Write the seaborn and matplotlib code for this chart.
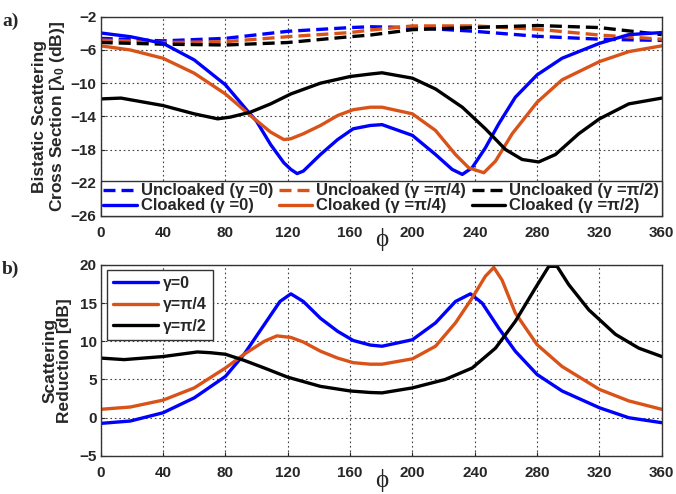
import numpy as np
import pandas as pd
import matplotlib
matplotlib.use("Agg")
import matplotlib.pyplot as plt
import seaborn as sns

# ---------------- data ----------------
# panel a) : bistatic scattering cross section [dB]
unc0_phi = [0, 40, 80, 120, 160, 173, 200, 240, 280, 320, 360]
unc0_val = [-4.6, -4.9, -4.6, -3.75, -3.3, -3.2, -3.3, -3.75, -4.35, -4.7, -4.85]
unc4_phi = [0, 40, 80, 120, 160, 173, 200, 240, 280, 320, 360]
unc4_val = [-4.8, -5.1, -5.0, -4.4, -3.9, -3.6, -3.1, -3.1, -3.5, -4.2, -4.7]
unc2_phi = [0, 40, 80, 120, 160, 173, 200, 240, 280, 320, 360]
unc2_val = [-5.1, -5.3, -5.4, -5.1, -4.4, -4.2, -3.55, -3.3, -3.05, -3.3, -4.15]

clk0_phi = [0, 19, 40, 60, 80, 94, 100, 109, 117.5, 122, 126, 130, 141, 152, 162, 173, 180.5,
            200, 214.8, 225.5, 232, 238.3, 246.8, 255.4, 266, 280, 296, 320, 338.8, 360]
clk0_val = [-3.95, -4.4, -5.2, -7.2, -10.2, -13.3, -14.6, -17.4, -19.6, -20.4, -20.9, -20.6, -18.6,
            -16.8, -15.5, -15.1, -15.0, -16.3, -18.6, -20.4, -21.0, -20.2, -17.8, -14.9, -11.7,
            -9.0, -7.0, -5.2, -4.15, -3.9]
clk4_phi = [0, 19, 40, 60, 80, 96, 109, 117.5, 122, 130, 141, 152, 162, 173, 180.5, 200, 214.8,
            227.6, 236.1, 245.8, 253.3, 264, 280, 296, 320, 338.8, 360]
clk4_val = [-5.5, -6.0, -7.0, -8.8, -11.3, -13.9, -15.9, -16.8, -16.7, -16.1, -15.1, -13.9, -13.2,
            -12.9, -12.9, -13.7, -15.7, -18.6, -20.2, -20.8, -19.4, -16.1, -12.3, -9.6, -7.4,
            -6.2, -5.5]
clk2_phi = [0, 13, 40, 60, 75, 83, 96, 109, 122, 141, 160, 173, 180.5, 200, 214.8, 232, 246.8,
            259.7, 270.4, 281, 291.8, 306.7, 320, 338.8, 360]
clk2_val = [-11.9, -11.8, -12.7, -13.7, -14.3, -14.1, -13.5, -12.5, -11.3, -10.0, -9.2, -8.9,
            -8.75, -9.4, -10.7, -12.9, -15.5, -18.0, -19.2, -19.5, -18.6, -16.1, -14.3, -12.5,
            -11.8]

# panel b) : scattering reduction [dB]
red0_phi = [0, 19, 40, 60, 80, 92, 105, 115, 122, 130, 141, 152, 162, 173, 180.5, 200, 214.8,
            227.6, 237.2, 244.7, 255.4, 266, 280, 296, 320, 338.8, 360]
red0_val = [-0.74, -0.43, 0.65, 2.6, 5.4, 8.3, 12.2, 15.2, 16.2, 15.2, 13.0, 11.3, 10.1, 9.5,
            9.35, 10.2, 12.4, 15.2, 16.2, 15.0, 11.7, 8.7, 5.65, 3.5, 1.3, 0.0, -0.65]
red4_phi = [0, 19, 40, 60, 80, 92, 105, 113, 122, 130, 141, 152, 162, 173, 180.5, 200, 214.8,
            227.6, 238.3, 246.8, 252.2, 257.5, 266, 280, 296, 320, 338.8, 360]
red4_val = [1.1, 1.4, 2.3, 3.9, 6.5, 8.3, 10.0, 10.7, 10.5, 9.9, 8.7, 7.8, 7.2, 7.0, 7.0, 7.7,
            9.35, 12.4, 15.65, 18.5, 19.65, 18.0, 13.7, 9.55, 6.7, 3.7, 2.2, 1.1]
red2_phi = [0, 15, 40, 62, 70.5, 80, 92, 105, 120, 141, 160, 173, 180.5, 200, 221, 238.3, 253.3,
            266, 279, 287.5, 292.8, 300.3, 313.2, 330.3, 345.2, 360]
red2_val = [7.8, 7.6, 8.0, 8.6, 8.5, 8.3, 7.5, 6.5, 5.3, 4.1, 3.5, 3.3, 3.25, 3.9, 5.0, 6.5, 9.1,
            12.6, 17.0, 19.8, 19.8, 17.4, 14.1, 10.9, 9.1, 8.0]

xticks = list(range(0, 361, 40))
yticks_a = list(range(-26, -1, 4))
yticks_b = list(range(-5, 21, 5))

BLUE = "#0000FF"
ORANGE = "#D95319"
BLACK = "#000000"

# ---------------- style ----------------
sns.set_style("ticks")
plt.rcParams["font.family"] = ["Liberation Sans", "DejaVu Sans"]
plt.rcParams["font.weight"] = "bold"
plt.rcParams["axes.labelweight"] = "bold"
plt.rcParams["mathtext.fontset"] = "custom"
plt.rcParams["mathtext.bf"] = "Liberation Sans:bold"
plt.rcParams["mathtext.rm"] = "Liberation Sans:bold"
plt.rcParams["mathtext.default"] = "bf"

fig = plt.figure(figsize=(6.76, 4.94), dpi=100)
axA = fig.add_axes([0.149, 0.563, 0.830, 0.403])
axB = fig.add_axes([0.149, 0.077, 0.830, 0.387])

LW = 2.4


def draw(ax, phi, val, color, ls="-"):
    df = pd.DataFrame({"phi": phi, "val": val})
    sns.lineplot(data=df, x="phi", y="val", ax=ax, color=color, linewidth=LW,
                 linestyle=ls, sort=False, estimator=None)
    line = ax.get_lines()[-1]
    if ls == "--":
        line.set_dashes((3.6, 1.8))
    return line


# panel a
l_u0 = draw(axA, unc0_phi, unc0_val, BLUE, "--")
l_u4 = draw(axA, unc4_phi, unc4_val, ORANGE, "--")
l_u2 = draw(axA, unc2_phi, unc2_val, BLACK, "--")
l_c0 = draw(axA, clk0_phi, clk0_val, BLUE)
l_c4 = draw(axA, clk4_phi, clk4_val, ORANGE)
l_c2 = draw(axA, clk2_phi, clk2_val, BLACK)

# panel b
l_r0 = draw(axB, red0_phi, red0_val, BLUE)
l_r4 = draw(axB, red4_phi, red4_val, ORANGE)
l_r2 = draw(axB, red2_phi, red2_val, BLACK)

for ax, yt in ((axA, yticks_a), (axB, yticks_b)):
    ax.set_xlim(0, 360)
    ax.set_ylim(yt[0], yt[-1])
    ax.set_xticks(xticks)
    ax.set_yticks(yt)
    ax.grid(True, linestyle=(0, (1.5, 2.5)), color="#444444", linewidth=0.8)
    ax.tick_params(direction="in", length=3, labelsize=11, width=0.8, pad=3)
    ax.tick_params(axis="x", pad=7)
    for lab in ax.get_xticklabels() + ax.get_yticklabels():
        lab.set_fontweight("bold")
    for s in ax.spines.values():
        s.set_color("#333333")
        s.set_linewidth(1.0)
    ax.set_xlabel("ϕ", fontsize=18, family=["Liberation Serif", "DejaVu Serif"],
                  fontweight="normal", labelpad=-8)

axA.set_ylabel("Bistatic Scattering\nCross Section [λ$_0$ (dB)]", fontsize=12.5,
               fontweight="bold", labelpad=3, linespacing=1.0)
axB.set_ylabel("Scattering\nReduction [dB]", fontsize=12.5, fontweight="bold",
               labelpad=5, linespacing=1.0)

legA = axA.legend([l_u0, l_c0, l_u4, l_c4, l_u2, l_c2],
                  ["Uncloaked (γ =0)", "Cloaked (γ =0)",
                   "Uncloaked (γ =π/4)", "Cloaked (γ =π/4)",
                   "Uncloaked (γ =π/2)", "Cloaked (γ =π/2)"],
                  ncol=3, loc="lower left", bbox_to_anchor=(0, 0, 1, 0.2),
                  mode="expand", borderaxespad=0, fancybox=False, framealpha=1,
                  edgecolor="#333333", prop={"size": 12, "weight": "bold"},
                  handlelength=2.0, handletextpad=0.25, columnspacing=0.1,
                  labelspacing=0.0, borderpad=0.15)
legA.get_frame().set_linewidth(1.0)

legB = axB.legend([l_r0, l_r4, l_r2], ["γ=0", "γ=π/4", "γ=π/2"],
                  loc="upper left", bbox_to_anchor=(0.011, 0.975), borderaxespad=0,
                  fancybox=False, framealpha=1, edgecolor="#333333",
                  prop={"size": 11.5, "weight": "bold"}, handlelength=2.8,
                  handletextpad=0.3, labelspacing=0.4, borderpad=0.4)
legB.get_frame().set_linewidth(1.0)

fig.text(0.003, 0.975, "a)", fontsize=14, fontweight="bold",
         family=["Liberation Serif", "DejaVu Serif"], va="top")
fig.text(0.003, 0.472, "b)", fontsize=14, fontweight="bold",
         family=["Liberation Serif", "DejaVu Serif"], va="top")

fig.savefig("out.png", dpi=100)
